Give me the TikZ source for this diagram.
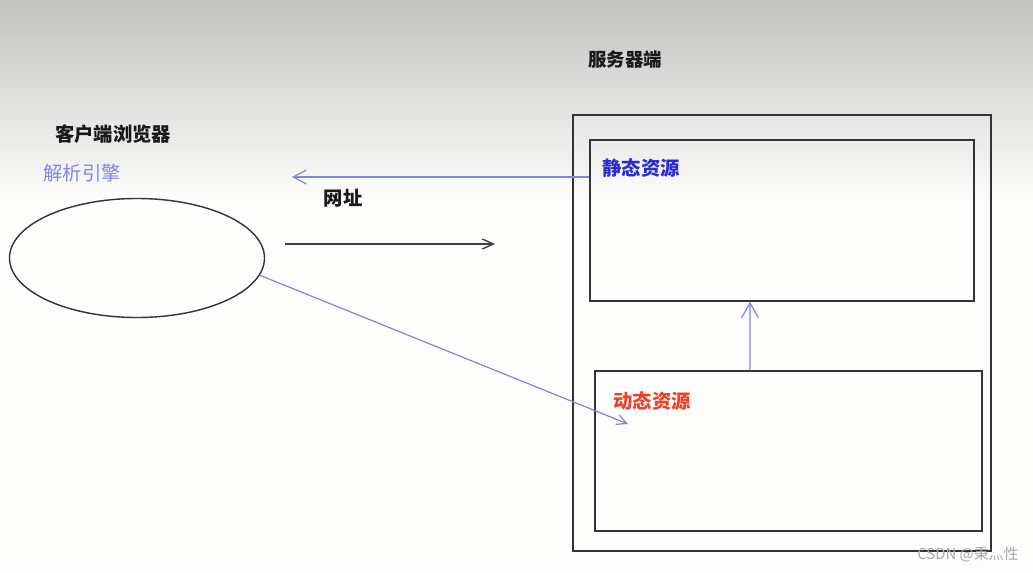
\documentclass[tikz,border=0pt]{standalone}
\usepackage{fontspec}
\setmainfont{Noto Sans CJK SC}
\usepackage{xcolor}
\usepackage{tikz}
\usetikzlibrary{arrows.meta,positioning,shapes.geometric,calc}
\definecolor{Lav}{HTML}{8484E6}
\definecolor{BlueT}{HTML}{2B2BD4}
\definecolor{RedT}{HTML}{F0402A}
\definecolor{TopG}{HTML}{C2C3C0}
\definecolor{Paper}{HTML}{FDFEFC}
\definecolor{WGray}{HTML}{A8A8A8}

\begin{document}
\begin{tikzpicture}[x=0.2mm,y=-0.2mm,
    font=\fontsize{11}{13}\selectfont,
    box/.style={draw=black!80,line width=0.8pt,inner sep=0pt},
    lbl/.style={inner sep=0pt,text=black!90,font=\fontsize{11}{13}\selectfont\bfseries},
    flow/.style={draw=Lav,line width=0.7pt,-{Straight Barb[length=2.6mm,width=2.8mm]}},
    req/.style={draw=black!75,line width=0.8pt,-{Straight Barb[length=2.2mm,width=2mm]}}]
  \useasboundingbox (0,0) rectangle (1033,572);
  \fill[Paper] (0,0) rectangle (1033,572);
  \shade[top color=TopG,bottom color=Paper] (0,0) rectangle (1033,200);
  % client side
  \node[lbl] (client) at (113,134) {客户端浏览器};
  \node[lbl,text=Lav,font=\fontsize{11}{13}\selectfont] (engine) at (82,173) {解析引擎};
  \node[box,ellipse,minimum width=51mm,minimum height=23.8mm] (browser) at (137,258) {};
  % server side
  \node[lbl,font=\fontsize{10.5}{12}\selectfont\bfseries] (server) at (625,60) {服务器端};
  \node[box,minimum width=83.6mm,minimum height=87.2mm] (srvbox) at (782,333) {};
  \node[box,minimum width=76.8mm,minimum height=32.2mm] (static) at (782,220.5) {};
  \node[box,minimum width=77.4mm,minimum height=32mm] (dynamic) at (788.5,451) {};
  \node[lbl,text=BlueT] (statlbl) at (641,168) {静态资源};
  \node[lbl,text=RedT] (dynlbl) at (652,401) {动态资源};
  % connectors
  \coordinate (urlend) at (292,177);
  \coordinate (reqstart) at (285,244);
  \coordinate (reqend) at (495,244);
  \coordinate (dynin) at (628,424);
  \draw[flow] (static.west |- urlend) -- (urlend);
  \node[lbl] (url) at (343,198) {网址};
  \draw[req] (reqstart) -- (reqend);
  \draw[flow,-{Straight Barb[length=2mm,width=2mm]}] (browser.-8) -- (dynin);
  \draw[flow,-{Straight Barb[length=3mm,width=3.4mm]}] ([xshift=-7.7mm]dynamic.north) -- ([xshift=-6.4mm]static.south);
  \node[inner sep=0pt,text=WGray,font=\fontsize{8.5}{10}\selectfont,anchor=east] (mark) at (1019,555) {CSDN @秉灬性};
\end{tikzpicture}
\end{document}
